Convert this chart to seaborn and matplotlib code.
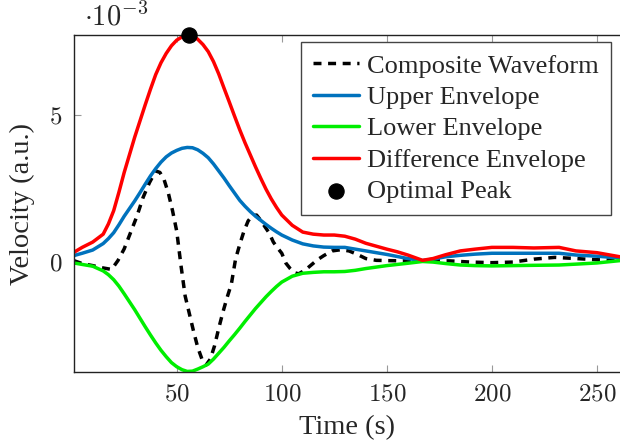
import matplotlib
matplotlib.use("Agg")
import matplotlib.pyplot as plt
import seaborn as sns
import numpy as np
from matplotlib.ticker import FuncFormatter

# envelopes, velocity in units of 1e-3
t_env = [1, 5, 10, 15, 17.5, 20, 22.5, 25, 27.5, 30, 32.5, 35, 37.5, 40, 42.5, 45, 47.5, 50,
         52.5, 55, 57.5, 60, 62.5, 65, 67.5, 70, 72.5, 75, 77.5, 80, 82.5, 85, 87.5, 90,
         92.5, 95, 97.5, 100, 105, 110, 115, 120, 125, 130, 135, 140, 145, 150, 155, 160,
         167, 172, 178, 185, 192, 200, 210, 220, 232, 240, 250, 261]
upper = [0.22, 0.30, 0.41, 0.63, 0.80, 1.00, 1.27, 1.56, 1.82, 2.08, 2.36, 2.65, 2.93, 3.18,
         3.40, 3.58, 3.71, 3.80, 3.87, 3.90, 3.89, 3.82, 3.70, 3.55, 3.34, 3.10, 2.86, 2.60,
         2.35, 2.10, 1.90, 1.72, 1.56, 1.42, 1.28, 1.15, 1.03, 0.92, 0.75, 0.62, 0.55, 0.51,
         0.50, 0.50, 0.44, 0.38, 0.32, 0.26, 0.19, 0.12, 0.05, 0.10, 0.18, 0.23, 0.27, 0.30,
         0.30, 0.30, 0.30, 0.24, 0.20, 0.14]
lower = [-0.03, -0.08, -0.14, -0.30, -0.43, -0.60, -0.82, -1.08, -1.35, -1.62, -1.91, -2.20,
         -2.48, -2.75, -3.00, -3.22, -3.42, -3.56, -3.66, -3.72, -3.71, -3.64, -3.56, -3.47,
         -3.30, -3.10, -2.90, -2.68, -2.47, -2.25, -2.02, -1.80, -1.58, -1.38, -1.18, -1.00,
         -0.83, -0.68, -0.48, -0.38, -0.35, -0.33, -0.33, -0.32, -0.28, -0.22, -0.17, -0.12,
         -0.08, -0.04, 0.02, 0.00, -0.05, -0.10, -0.12, -0.13, -0.12, -0.11, -0.10, -0.07,
         -0.03, 0.05]
difference = [0.33, 0.50, 0.68, 0.95, 1.30, 1.75, 2.38, 3.05, 3.65, 4.25, 4.80, 5.35, 5.88,
              6.38, 6.78, 7.10, 7.36, 7.55, 7.66, 7.71, 7.70, 7.58, 7.40, 7.16, 6.82, 6.40,
              5.92, 5.45, 4.97, 4.50, 4.06, 3.65, 3.24, 2.85, 2.48, 2.15, 1.86, 1.60, 1.25,
              1.02, 0.95, 0.92, 0.92, 0.88, 0.78, 0.64, 0.54, 0.44, 0.35, 0.24, 0.06, 0.12,
              0.25, 0.38, 0.44, 0.50, 0.50, 0.48, 0.50, 0.38, 0.32, 0.18]

# composite waveform
t_wave = [1, 5, 10, 15, 19, 22, 25, 28, 31, 34, 37, 40, 42, 44, 46, 48, 50, 52, 54, 56, 58,
          60, 62, 64, 66, 68, 70, 72, 74, 76, 78, 80, 82, 84, 86, 88, 90, 92, 94, 96, 98,
          100, 102, 104, 106, 108, 111, 114, 117, 120, 124, 128, 132, 136, 140, 145, 150,
          160, 170, 180, 190, 200, 210, 220, 230, 240, 250, 261]
wave = [0.05, -0.05, -0.12, -0.20, -0.25, 0.05, 0.45, 1.00, 1.55, 2.20, 2.70, 3.10, 3.05,
        2.80, 2.35, 1.75, 1.05, -0.10, -1.15, -1.75, -2.35, -2.90, -3.30, -3.50, -3.30,
        -2.85, -2.25, -1.70, -1.20, -0.75, 0.10, 0.60, 1.05, 1.40, 1.58, 1.60, 1.42, 1.20,
        0.99, 0.68, 0.48, 0.30, -0.04, -0.22, -0.36, -0.40, -0.28, -0.10, 0.08, 0.22, 0.38,
        0.42, 0.38, 0.26, 0.12, 0.06, 0.05, 0.04, 0.05, 0.04, 0.00, -0.02, 0.00, 0.10, 0.16,
        0.12, 0.08, 0.06]

peak_time = [56]
peak_value = [7.72]

sns.set_style("white")
plt.rcParams['font.family'] = ['Liberation Serif', 'DejaVu Serif']
plt.rcParams['mathtext.fontset'] = 'cm'
fs_tick = 18
fs_label = 20.5
fs_leg = 19

fig = plt.figure(figsize=(6.2, 4.45), dpi=100)
ax = fig.add_axes([0.119, 0.164, 0.881, 0.757])

kw = dict(ax=ax, lw=2.5, solid_joinstyle='round', solid_capstyle='round')
sns.lineplot(x=t_wave, y=wave, color='black', label='Composite Waveform',
             linestyle=(0, (2.3, 1.9)), ax=ax, lw=2.5)
sns.lineplot(x=t_env, y=upper, color='#0072BD', label='Upper Envelope', **kw)
sns.lineplot(x=t_env, y=lower, color='#00EE00', label='Lower Envelope', **kw)
sns.lineplot(x=t_env, y=difference, color='#FF0000', label='Difference Envelope', **kw)
sns.scatterplot(x=peak_time, y=peak_value, ax=ax, color='black', s=120, zorder=5,
                label='Optimal Peak', clip_on=False, edgecolor='black')

ax.set_xlim(1, 261)
ax.set_ylim(-3.74, 7.72)
ax.set_xticks([50, 100, 150, 200, 250])
ax.set_yticks([0, 5])
fmt = FuncFormatter(lambda v, p: f'${v:g}$')
ax.xaxis.set_major_formatter(fmt)
ax.yaxis.set_major_formatter(fmt)
ax.tick_params(direction='in', length=5, color='#999999', labelsize=fs_tick, top=True,
               bottom=True, left=True, pad=8)

for s in ['left', 'bottom', 'top']:
    ax.spines[s].set_color('#222222')
    ax.spines[s].set_linewidth(1.0)
ax.spines['right'].set_visible(False)

ax.set_xlabel('Time (s)', fontsize=fs_label, labelpad=7)
ax.set_ylabel('Velocity (a.u.)', fontsize=fs_label, labelpad=10)
ax.text(0.018, 1.03, r'$\cdot 10^{-3}$', transform=ax.transAxes, fontsize=fs_label,
        ha='left', va='baseline')

leg = ax.legend(loc='upper right', bbox_to_anchor=(0.9835, 0.979), fontsize=fs_leg,
                frameon=True, fancybox=False, edgecolor='#444444', framealpha=1,
                handlelength=1.75, handletextpad=0.3, labelspacing=0.3, borderpad=0.45,
                borderaxespad=0)
leg.get_frame().set_linewidth(1.0)

fig.savefig('out.png', dpi=100)
